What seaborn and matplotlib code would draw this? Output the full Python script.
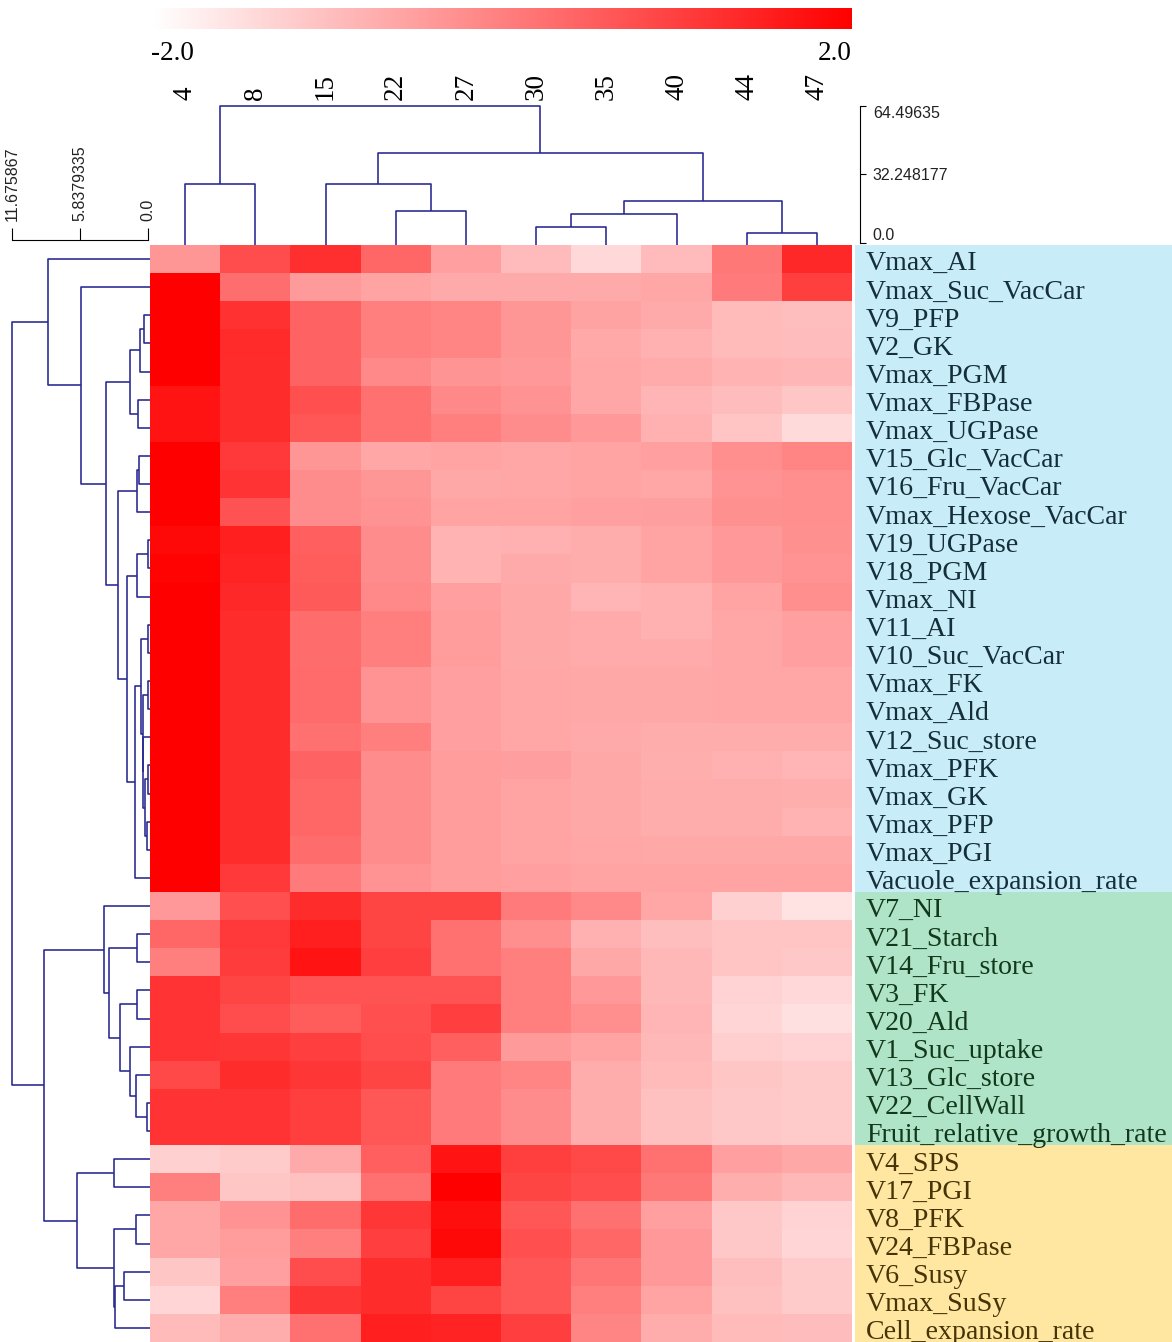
import numpy as np
import pandas as pd
import matplotlib
matplotlib.use("Agg")
import matplotlib.pyplot as plt
import seaborn as sns
from matplotlib.colors import LinearSegmentedColormap
from matplotlib.transforms import blended_transform_factory

# ---------------- data ----------------
columns = ["4", "8", "15", "22", "27", "30", "35", "40", "44", "47"]

rows_blue = ["Vmax_AI", "Vmax_Suc_VacCar", "V9_PFP", "V2_GK", "Vmax_PGM", "Vmax_FBPase",
             "Vmax_UGPase", "V15_Glc_VacCar", "V16_Fru_VacCar", "Vmax_Hexose_VacCar",
             "V19_UGPase", "V18_PGM", "Vmax_NI", "V11_AI", "V10_Suc_VacCar", "Vmax_FK",
             "Vmax_Ald", "V12_Suc_store", "Vmax_PFK", "Vmax_GK", "Vmax_PFP", "Vmax_PGI",
             "Vacuole_expansion_rate"]
rows_green = ["V7_NI", "V21_Starch", "V14_Fru_store", "V3_FK", "V20_Ald", "V1_Suc_uptake",
              "V13_Glc_store", "V22_CellWall", "Fruit_relative_growth_rate"]
rows_yellow = ["V4_SPS", "V17_PGI", "V8_PFK", "V24_FBPase", "V6_Susy", "Vmax_SuSy",
               "Cell_expansion_rate"]

values_blue = [
    [-0.35, 0.80, 1.25, 0.40, -0.50, -0.93, -1.40, -0.93, 0.12, 1.37],
    [2.00, 0.27, -0.42, -0.56, -0.67, -0.67, -0.67, -0.60, 0.09, 1.03],
    [2.00, 1.22, 0.46, 0.00, -0.09, -0.35, -0.54, -0.67, -0.92, -0.97],
    [2.00, 1.34, 0.46, 0.00, -0.09, -0.35, -0.65, -0.76, -0.92, -0.95],
    [2.00, 1.30, 0.46, -0.13, -0.32, -0.40, -0.60, -0.68, -0.80, -0.85],
    [1.69, 1.30, 0.75, 0.24, -0.13, -0.30, -0.60, -0.84, -0.95, -1.10],
    [1.69, 1.30, 0.65, 0.24, 0.00, -0.20, -0.40, -0.76, -1.07, -1.42],
    [2.00, 1.10, -0.35, -0.60, -0.56, -0.60, -0.56, -0.50, -0.23, -0.09],
    [2.00, 1.20, -0.20, -0.35, -0.64, -0.60, -0.56, -0.60, -0.30, -0.23],
    [2.00, 0.71, -0.20, -0.30, -0.56, -0.56, -0.50, -0.48, -0.26, -0.23],
    [1.87, 1.50, 0.51, -0.20, -0.80, -0.76, -0.70, -0.56, -0.39, -0.26],
    [1.95, 1.45, 0.55, -0.20, -0.80, -0.67, -0.70, -0.56, -0.40, -0.30],
    [2.00, 1.37, 0.59, -0.13, -0.50, -0.64, -0.84, -0.76, -0.56, -0.23],
    [2.00, 1.30, 0.30, 0.00, -0.46, -0.64, -0.68, -0.76, -0.60, -0.50],
    [2.00, 1.30, 0.30, 0.00, -0.46, -0.64, -0.68, -0.68, -0.60, -0.50],
    [2.00, 1.30, 0.33, -0.30, -0.50, -0.60, -0.64, -0.64, -0.60, -0.60],
    [2.00, 1.30, 0.33, -0.30, -0.50, -0.60, -0.64, -0.64, -0.60, -0.60],
    [2.00, 1.30, 0.24, 0.00, -0.50, -0.60, -0.67, -0.70, -0.70, -0.70],
    [2.00, 1.30, 0.46, -0.20, -0.46, -0.48, -0.64, -0.73, -0.76, -0.84],
    [2.00, 1.30, 0.40, -0.20, -0.46, -0.56, -0.64, -0.70, -0.70, -0.73],
    [2.00, 1.30, 0.40, -0.20, -0.46, -0.56, -0.64, -0.70, -0.70, -0.80],
    [2.00, 1.30, 0.30, -0.20, -0.46, -0.56, -0.60, -0.64, -0.64, -0.64],
    [2.00, 1.10, 0.09, -0.30, -0.46, -0.50, -0.56, -0.56, -0.56, -0.56],
]
values_green = [
    [-0.40, 0.75, 1.30, 0.93, 0.93, 0.09, -0.13, -0.60, -1.26, -1.56],
    [0.40, 1.10, 1.50, 0.93, 0.24, -0.23, -0.76, -0.97, -1.07, -1.07],
    [0.02, 1.06, 1.69, 1.00, 0.24, 0.00, -0.64, -0.89, -1.07, -1.14],
    [1.20, 0.93, 0.71, 0.71, 0.71, 0.00, -0.40, -0.89, -1.31, -1.40],
    [1.20, 0.80, 0.55, 0.75, 1.00, 0.00, -0.23, -0.84, -1.34, -1.51],
    [1.20, 1.15, 1.00, 0.80, 0.51, -0.42, -0.56, -0.89, -1.22, -1.31],
    [0.87, 1.30, 1.15, 0.93, 0.09, -0.09, -0.70, -0.92, -1.10, -1.17],
    [1.20, 1.20, 1.03, 0.65, 0.09, -0.20, -0.70, -1.01, -1.14, -1.17],
    [1.20, 1.20, 1.03, 0.65, 0.09, -0.20, -0.70, -1.01, -1.14, -1.17],
]
values_yellow = [
    [-1.26, -1.17, -0.67, 0.51, 1.69, 1.03, 0.87, 0.24, -0.50, -0.64],
    [0.00, -1.10, -1.01, 0.24, 2.00, 0.93, 0.80, 0.12, -0.73, -0.89],
    [-0.60, -0.30, 0.30, 1.15, 1.78, 0.65, 0.24, -0.50, -1.14, -1.31],
    [-0.60, -0.46, 0.00, 1.00, 1.87, 0.75, 0.40, -0.40, -1.14, -1.34],
    [-1.10, -0.50, 0.80, 1.30, 1.50, 0.65, 0.16, -0.40, -0.97, -1.17],
    [-1.34, 0.00, 1.15, 1.30, 0.93, 0.65, 0.00, -0.56, -1.01, -1.17],
    [-0.92, -0.70, 0.24, 1.50, 1.44, 1.00, -0.09, -0.70, -0.92, -0.95],
]

# row dendrogram merges (leaves 0..38 in display order, new node id = 39 + k)
row_merge_left = [2, 39, 5, 40, 7, 43, 10, 45, 13, 15, 18, 20, 49, 17, 48, 47, 54, 46, 44, 42,
                  1, 0, 24, 26, 30, 29, 28, 62, 61, 23, 32, 34, 36, 71, 70, 69, 68, 60]
row_merge_right = [3, 4, 6, 41, 8, 9, 11, 12, 14, 16, 19, 21, 50, 51, 52, 53, 22, 55, 56, 57,
                   58, 59, 25, 27, 31, 63, 64, 65, 66, 67, 33, 35, 37, 38, 72, 73, 74, 75]
row_merge_height = [0.33, 0.68, 0.83, 1.55, 0.74, 0.97, 0.03, 0.97, 0.03, 0.03, 0.03, 0.12,
                    0.30, 0.40, 0.42, 0.60, 1.08, 1.80, 2.55, 3.60, 5.77, 8.55, 0.95, 0.95,
                    0.05, 1.06, 1.58, 2.38, 3.35, 3.81, 2.95, 1.06, 2.09, 2.84, 2.93, 6.12,
                    8.93, 11.675867]

# column dendrogram merges (leaves 0..9, new node id = 10 + k)
col_merge_left = [0, 3, 2, 5, 13, 8, 14, 12, 10]
col_merge_right = [1, 4, 11, 6, 7, 9, 15, 16, 17]
col_merge_height = [27.8, 15.2, 27.8, 7.8, 13.5, 4.9, 19.8, 42.2, 64.49635]

row_scale_ticks = [0.0, 5.8379335, 11.675867]
row_scale_labels = ["0.0", "5.8379335", "11.675867"]
col_scale_ticks = [0.0, 32.248177, 64.49635]
col_scale_labels = ["0.0", "32.248177", "64.49635"]
color_range = [-2.0, 2.0]

# ---------------- build ----------------
row_labels = rows_blue + rows_green + rows_yellow
matrix = np.array(values_blue + values_green + values_yellow)
df = pd.DataFrame(matrix, index=row_labels, columns=columns)

SERIF = ["Liberation Serif", "DejaVu Serif"]
SANS = ["Liberation Sans", "DejaVu Sans"]
DCOL = "#26268f"

W, H = 1172, 1342
fig = plt.figure(figsize=(W / 100, H / 100), dpi=100)


def px_axes(x0, y0, x1, y1):
    return fig.add_axes([x0 / W, 1 - y1 / H, (x1 - x0) / W, (y1 - y0) / H])


ax_hm = px_axes(150, 245, 852, 1342)
ax_cb = px_axes(151, 8, 852, 29)
ax_col = px_axes(150, 105.7, 852, 245)
ax_row = px_axes(0, 245, 150, 1342)
ax_rs = px_axes(0, 130, 150, 240)
ax_lab = px_axes(855, 245, 1172, 1342)

cmap = LinearSegmentedColormap.from_list("white_red", ["#ffffff", "#ff0000"])
sns.heatmap(df, ax=ax_hm, cmap=cmap, vmin=color_range[0], vmax=color_range[1],
            cbar_ax=ax_cb, cbar_kws={"orientation": "horizontal"},
            xticklabels=False, yticklabels=False, linewidths=0)
ax_hm.set_xlabel("")
ax_hm.set_ylabel("")
cbar = ax_hm.collections[0].colorbar
cbar.outline.set_visible(False)
ax_cb.set_xticks([])
ax_cb.set_yticks([])
fig.text(151 / W, 1 - 54 / H, f"{color_range[0]:.1f}", family=SERIF, fontsize=19.5,
         ha="left", va="center")
fig.text(852 / W, 1 - 54 / H, f"{color_range[1]:.1f}", family=SERIF, fontsize=19.5,
         ha="right", va="center")


def dendro_segments(n_leaves, left, right, height, base):
    pos = {i: i + 0.5 for i in range(n_leaves)}
    hgt = {i: base for i in range(n_leaves)}
    segs = []
    for k, (a, b, h) in enumerate(zip(left, right, height)):
        node = n_leaves + k
        segs.append(([pos[a], pos[a], pos[b], pos[b]], [hgt[a], h, h, hgt[b]]))
        pos[node] = (pos[a] + pos[b]) / 2
        hgt[node] = h
    return segs


# column dendrogram
col_base = -0.8
ax_col.set_xlim(0, len(columns))
ax_col.set_ylim(col_base, col_scale_ticks[-1])
for p, h in dendro_segments(len(columns), col_merge_left, col_merge_right,
                            col_merge_height, col_base):
    ax_col.plot(p, h, color=DCOL, lw=1.15, clip_on=False, solid_capstyle="butt")
ax_col.set_facecolor("none")
for s in ["left", "top", "bottom"]:
    ax_col.spines[s].set_visible(False)
ax_col.spines["right"].set_position(("outward", 6))
ax_col.spines["right"].set_bounds(col_scale_ticks[0], col_scale_ticks[-1])
ax_col.spines["right"].set_linewidth(0.8)
ax_col.yaxis.tick_right()
ax_col.set_yticks(col_scale_ticks)
ax_col.set_yticklabels(col_scale_labels, family=SANS, fontsize=11.5, color="#222222")
ax_col.tick_params(axis="y", direction="out", length=4, width=0.8, pad=5)
ylabs = ax_col.get_yticklabels()
ylabs[0].set_va("bottom")
ylabs[-1].set_va("top")
ax_col.set_xticks(np.arange(len(columns)) + 0.5)
ax_col.set_xticklabels(columns, rotation=90, family=SERIF, fontsize=19.5)
ax_col.tick_params(axis="x", top=True, bottom=False, labeltop=True, labelbottom=False,
                   length=0, pad=4)

# row dendrogram
px_per_unit = 136 / row_scale_ticks[-1]
row_left = row_scale_ticks[-1] + 12 / px_per_unit
row_right = -2 / px_per_unit
ax_row.set_xlim(row_left, row_right)
ax_row.set_ylim(len(row_labels), 0)
for p, h in dendro_segments(len(row_labels), row_merge_left, row_merge_right,
                            row_merge_height, row_right):
    ax_row.plot(h, p, color=DCOL, lw=1.15, clip_on=False, solid_capstyle="butt")
ax_row.axis("off")

# row scale bar
ax_rs.set_xlim(row_left, row_right)
ax_rs.set_ylim(0, 1)
ax_rs.set_facecolor("none")
for s in ["left", "top", "right"]:
    ax_rs.spines[s].set_visible(False)
ax_rs.spines["bottom"].set_bounds(row_scale_ticks[0], row_scale_ticks[-1])
ax_rs.spines["bottom"].set_linewidth(0.8)
ax_rs.set_xticks(row_scale_ticks)
ax_rs.set_yticks([])
ax_rs.tick_params(axis="x", direction="in", length=8.5, width=0.8, labelbottom=False)
tr = blended_transform_factory(ax_rs.transData, ax_rs.transAxes)
for v, lab in zip(row_scale_ticks, row_scale_labels):
    ax_rs.text(v, 0.17, lab, rotation=90, ha="center", va="bottom", transform=tr,
               family=SANS, fontsize=11.5, color="#222222")

# label panel with group backgrounds
groups = [(rows_blue, "#c9ecf9", "#142f3a"), (rows_green, "#b0e4c8", "#12391b"),
          (rows_yellow, "#ffe6a1", "#463407")]
ax_lab.set_xlim(0, 1)
ax_lab.set_ylim(len(row_labels), 0)
start = 0
for names, bg, fg in groups:
    ax_lab.axhspan(start, start + len(names), color=bg, lw=0)
    for i, name in enumerate(names):
        ax_lab.text(0.035, start + i + 0.9, name, family=SERIF, fontsize=20.1, color=fg,
                    ha="left", va="baseline")
    start += len(names)
ax_lab.axis("off")

fig.savefig("out.png", dpi=100)
